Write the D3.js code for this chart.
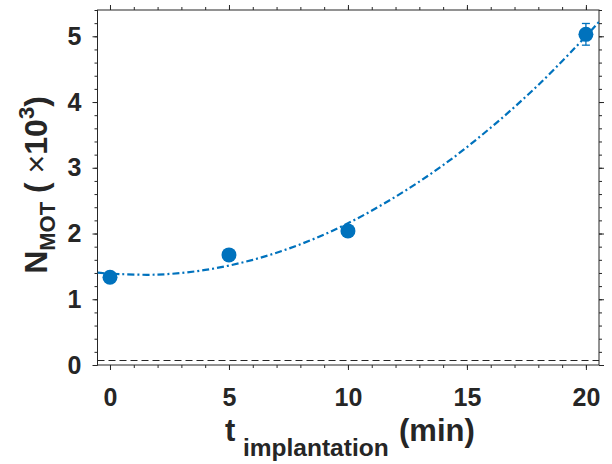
<!DOCTYPE html>
<html>
<head>
<meta charset="utf-8">
<script src="https://cdn.jsdelivr.net/npm/d3@7"></script>
<style>
  body { margin: 0; background: #fff; }
  svg { font-family: "Liberation Sans", Arial, sans-serif; font-weight: bold; }
</style>
</head>
<body>
<svg id="chart" width="612" height="464"></svg>
<script>
// measured points
const tVals = [0, 5, 10, 20];
const nVals = [1.335, 1.675, 2.04, 5.03];
const nErr = [0.03, 0.04, 0.05, 0.165];

// fit curve
const fitT = [-0.525, 0, 2, 4, 6, 8, 10, 12, 14, 16, 18, 20, 20.55];
const fitN = [1.405, 1.39, 1.375, 1.446, 1.60, 1.836, 2.156, 2.56, 3.04, 3.61, 4.26, 5.0, 5.22];

// background level (dashed line)
const bgLevel = 0.076;

const xMajor = [0, 5, 10, 15, 20];
const xMinor = d3.range(0, 21, 1);
const yMajor = [0, 1, 2, 3, 4, 5];
const yMinor = d3.range(0, 5.41, 0.2);

const pLeft = 97.5, pRight = 599, pTop = 10, pBottom = 365;
const blue = "#0072BD", axisCol = "#262626";

const x = d3.scaleLinear().domain([-0.525, 20.55]).range([pLeft, pRight]);
const y = d3.scaleLinear().domain([0, 5.4]).range([pBottom, pTop]);

const svg = d3.select("#chart");

svg.append("clipPath").attr("id", "clip")
  .append("rect").attr("x", pLeft).attr("y", pTop)
  .attr("width", pRight - pLeft).attr("height", pBottom - pTop);

// axes: minor ticks first, then major ticks with labels
function axisGroup(axis, transform) {
  const g = svg.append("g").attr("transform", transform).call(axis);
  g.select(".domain").remove();
  g.selectAll("line").attr("stroke", axisCol);
  return g;
}
axisGroup(d3.axisBottom(x).tickValues(xMinor).tickSize(3).tickFormat(""), `translate(0,${pBottom})`);
axisGroup(d3.axisTop(x).tickValues(xMinor).tickSize(3).tickFormat(""), `translate(0,${pTop})`);
axisGroup(d3.axisLeft(y).tickValues(yMinor).tickSize(3).tickFormat(""), `translate(${pLeft},0)`);
axisGroup(d3.axisRight(y).tickValues(yMinor).tickSize(3).tickFormat(""), `translate(${pRight},0)`);

axisGroup(d3.axisBottom(x).tickValues(xMajor).tickSize(5).tickPadding(18).tickFormat(d3.format("d")), `translate(0,${pBottom})`);
axisGroup(d3.axisTop(x).tickValues(xMajor).tickSize(5).tickFormat(""), `translate(0,${pTop})`);
axisGroup(d3.axisLeft(y).tickValues(yMajor).tickSize(5).tickPadding(11).tickFormat(d3.format("d")), `translate(${pLeft},0)`);
axisGroup(d3.axisRight(y).tickValues(yMajor).tickSize(5).tickFormat(""), `translate(${pRight},0)`);

svg.selectAll(".tick text")
  .attr("font-size", 25).attr("font-weight", "bold")
  .attr("font-family", "Liberation Sans, Arial, sans-serif")
  .attr("fill", axisCol);

// box
svg.append("rect").attr("x", pLeft).attr("y", pTop)
  .attr("width", pRight - pLeft).attr("height", pBottom - pTop)
  .attr("fill", "none").attr("stroke", axisCol).attr("stroke-width", 1);

// background level
svg.append("line")
  .attr("x1", pLeft).attr("x2", pRight)
  .attr("y1", Math.round(y(bgLevel)) + 0.5).attr("y2", Math.round(y(bgLevel)) + 0.5)
  .attr("stroke", axisCol).attr("stroke-width", 1.2)
  .attr("stroke-dasharray", "7,4");

// fit curve
const fitData = fitT.map((t, i) => [t, fitN[i]]);
svg.append("path")
  .datum(fitData)
  .attr("clip-path", "url(#clip)")
  .attr("fill", "none")
  .attr("stroke", blue)
  .attr("stroke-width", 2.2)
  .attr("stroke-dasharray", "7,3,2,3")
  .attr("d", d3.line().x(d => x(d[0])).y(d => y(d[1])).curve(d3.curveCatmullRom));

// error bars
const pts = tVals.map((t, i) => ({ t: t, n: nVals[i], e: nErr[i] }));
const eb = svg.append("g").attr("stroke", blue).attr("stroke-width", 1.3);
pts.forEach(d => {
  eb.append("line").attr("x1", x(d.t)).attr("x2", x(d.t))
    .attr("y1", y(d.n - d.e)).attr("y2", y(d.n + d.e));
  [d.n - d.e, d.n + d.e].forEach(v => {
    eb.append("line").attr("x1", x(d.t) - 4).attr("x2", x(d.t) + 4)
      .attr("y1", y(v)).attr("y2", y(v));
  });
});

// markers
svg.selectAll(".pt").data(pts).enter().append("circle")
  .attr("class", "pt")
  .attr("cx", d => x(d.t)).attr("cy", d => y(d.n))
  .attr("r", 7.5).attr("fill", blue);

// x label
const xl = svg.append("text").attr("x", 225).attr("y", 441)
  .attr("fill", axisCol).attr("font-size", 31);
xl.append("tspan").text("t");
xl.append("tspan").attr("x", 243).attr("font-size", 24.5).attr("dy", 15).text("implantation");
xl.append("tspan").attr("x", 399).attr("dy", -15).text("(min)");

// y label
const ylab = svg.append("text")
  .attr("transform", "translate(47,185) rotate(-90)")
  .attr("text-anchor", "middle")
  .attr("fill", axisCol).attr("font-size", 32);
ylab.append("tspan").text("N");
ylab.append("tspan").attr("font-size", 22).attr("dy", 8).text("MOT");
ylab.append("tspan").attr("dy", -8).text(" ( ");
ylab.append("tspan").attr("font-weight", "normal").text("×");
ylab.append("tspan").text("10");
ylab.append("tspan").attr("font-size", 22).attr("dy", -13).text("3");
ylab.append("tspan").attr("dy", 13).text(")");
</script>
</body>
</html>
